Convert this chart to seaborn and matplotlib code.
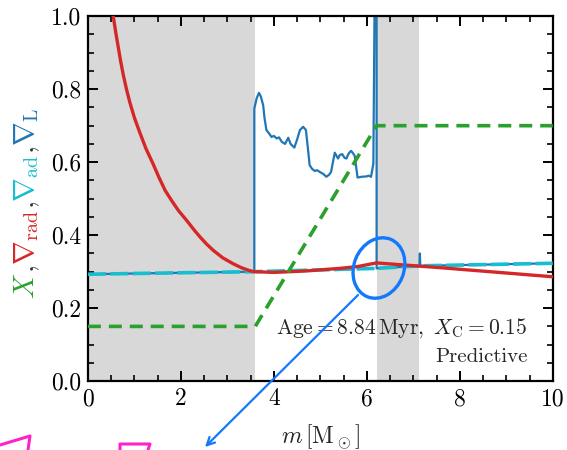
import numpy as np
import pandas as pd
import matplotlib
matplotlib.use("Agg")
import matplotlib.pyplot as plt
import seaborn as sns
from matplotlib.patches import Ellipse
from matplotlib.lines import Line2D
from matplotlib.transforms import offset_copy, IdentityTransform

# ---------------- data ----------------
# convective (shaded) zones in m [Msun]
conv_start = [0.0, 6.21]
conv_end = [3.6, 7.12]

# radiative gradient (red)
rad_m = [0.50, 0.545, 0.60, 0.70, 0.76, 0.83, 0.90, 1.00, 1.12, 1.25, 1.40, 1.53,
         1.66, 1.80, 1.95, 2.12, 2.30, 2.42, 2.55, 2.70, 2.90, 3.12, 3.30, 3.45,
         3.56, 3.60, 4.00, 4.70, 5.42, 5.80, 6.21, 7.14, 7.57, 10.0]
rad_v = [1.04, 1.00, 0.955, 0.88, 0.84, 0.80, 0.765, 0.722, 0.680, 0.637, 0.596, 0.558,
         0.523, 0.495, 0.467, 0.441, 0.412, 0.394, 0.376, 0.358, 0.338, 0.322, 0.311, 0.304,
         0.300, 0.300, 0.298, 0.302, 0.309, 0.314, 0.324, 0.315, 0.311, 0.286]

# adiabatic gradient (cyan)
ad_m = [0.0, 3.6, 6.2, 7.14, 10.0]
ad_v = [0.293, 0.300, 0.309, 0.316, 0.323]

# hydrogen abundance X (green)
x_m = [0.0, 3.6, 6.21, 10.0]
x_v = [0.15, 0.15, 0.70, 0.70]

# Ledoux gradient (blue)
L_m = [0.0, 3.58, 3.58, 3.63, 3.68, 3.72, 3.77, 3.80, 3.84, 3.89, 3.95, 4.00, 4.06, 4.11,
       4.17, 4.24, 4.31, 4.36, 4.44, 4.50, 4.56, 4.63, 4.69, 4.73, 4.77, 4.82, 4.88, 4.93,
       4.99, 5.06, 5.13, 5.19, 5.23, 5.27, 5.31, 5.38, 5.42, 5.47, 5.52, 5.56, 5.61, 5.66,
       5.70, 5.74, 5.80, 5.89, 5.99, 6.04, 6.09, 6.14, 6.17, 6.21, 6.21, 7.13, 7.14, 7.15,
       10.0]
L_v = [0.293, 0.300, 0.747, 0.775, 0.790, 0.780, 0.756, 0.720, 0.688, 0.680, 0.669, 0.672,
       0.665, 0.668, 0.656, 0.650, 0.667, 0.650, 0.640, 0.662, 0.688, 0.697, 0.688, 0.640,
       0.592, 0.582, 0.576, 0.578, 0.573, 0.568, 0.560, 0.566, 0.573, 0.600, 0.626, 0.610,
       0.620, 0.622, 0.612, 0.610, 0.624, 0.631, 0.625, 0.617, 0.558, 0.560, 0.561, 0.563,
       0.560, 0.596, 1.10, 1.10, 0.309, 0.316, 0.350, 0.316, 0.323]

# x / y ticks
xticks = [0, 2, 4, 6, 8, 10]
yticks = [0.0, 0.2, 0.4, 0.6, 0.8, 1.0]

# ---------------- style ----------------
sns.set_theme(style="ticks")
plt.rcParams.update({
    "font.family": "serif",
    "font.serif": ["cmr10"],
    "mathtext.fontset": "cm",
    "axes.formatter.use_mathtext": True,
    "axes.unicode_minus": False,
    "axes.linewidth": 1.6,
    "xtick.direction": "in",
    "ytick.direction": "in",
    "xtick.top": True,
    "ytick.right": True,
    "xtick.major.size": 7,
    "ytick.major.size": 7,
    "xtick.minor.size": 4,
    "ytick.minor.size": 4,
    "xtick.major.width": 1.4,
    "ytick.major.width": 1.4,
    "xtick.minor.width": 1.2,
    "ytick.minor.width": 1.2,
    "xtick.color": "black",
    "ytick.color": "black",
    "axes.edgecolor": "black",
})

RED, GREEN, CYAN, BLUE = "#d62728", "#2ca02c", "#17becf", "#1f77b4"

fig = plt.figure(figsize=(5.67, 4.5), dpi=100)
ax = fig.add_axes([0.155, 0.153, 0.82, 0.811])

for a, b in zip(conv_start, conv_end):
    ax.axvspan(a, b, color="#d8d8d8", lw=0, zorder=0)

sns.lineplot(x=L_m, y=L_v, sort=False, estimator=None, color=BLUE, lw=1.6, ax=ax, zorder=2)
sns.lineplot(x=ad_m, y=ad_v, sort=False, estimator=None, color=CYAN, lw=2.6, ax=ax,
             zorder=3, dashes=False)
ax.lines[-1].set_dashes([5, 1.2])
sns.lineplot(x=rad_m, y=rad_v, sort=False, estimator=None, color=RED, lw=2.4, ax=ax, zorder=4)
sns.lineplot(x=x_m, y=x_v, sort=False, estimator=None, color=GREEN, lw=2.6, ax=ax, zorder=5)
ax.lines[-1].set_dashes([3.6, 2.2])

ax.set_xlim(0, 10)
ax.set_ylim(0, 1)
ax.set_xticks(xticks)
ax.set_yticks(yticks)
ax.set_xticklabels([str(t) for t in xticks])
ax.set_yticklabels([f"{t:.1f}" for t in yticks])
ax.xaxis.set_minor_locator(matplotlib.ticker.MultipleLocator(0.5))
ax.yaxis.set_minor_locator(matplotlib.ticker.MultipleLocator(0.05))
ax.tick_params(which="both", labelsize=17, pad=5)
ax.tick_params(which="minor", labelsize=0)

ax.set_xlabel(r"$m\,[\mathrm{M}_\odot]$", fontsize=17, labelpad=9)
ax.set_ylabel("")

ax.text(0.946, 0.131, r"$\mathrm{Age} = 8.84\,\mathrm{Myr},\ X_\mathrm{C} = 0.15$",
        transform=ax.transAxes, ha="right", va="baseline", fontsize=15.5)
ax.text(0.946, 0.052, "Predictive", transform=ax.transAxes, ha="right",
        va="baseline", fontsize=15)

# multi-coloured y label
pieces = [(r"$X$", GREEN), (r"$,\ $", "#333333"), (r"$\nabla_\mathrm{rad}$", RED),
          (r"$,\ $", "#333333"), (r"$\nabla_\mathrm{ad}$", CYAN), (r"$,\ $", "#333333"),
          (r"$\nabla_\mathrm{L}$", BLUE)]
renderer = fig.canvas.get_renderer()
tr = fig.transFigure
offset = 0.0
for s, c in pieces:
    t = fig.text(0.060, 0.336, s, color=c, fontsize=20.5, rotation=90,
                 rotation_mode="anchor", ha="left", va="baseline",
                 transform=offset_copy(tr, fig=fig, y=offset, units="dots"))
    ext = t.get_window_extent(renderer)
    offset += ext.height

# hand-drawn annotations
cx, cy = ax.transData.transform((6.26, 0.31))
ell = Ellipse((cx, cy), 50, 62, angle=-22, fill=False, ec="#1478ff", lw=2.4,
              transform=IdentityTransform(), zorder=6)
fig.add_artist(ell)
ax.annotate("", xy=(205 / 567, 1 - 447 / 450), xycoords="figure fraction",
            xytext=(5.81, 0.236), textcoords="data",
            arrowprops=dict(arrowstyle="->", color="#1478ff", lw=1.6,
                            mutation_scale=14, shrinkA=0, shrinkB=0), zorder=6)
fig.add_artist(Line2D([0 / 567, 30 / 567, 28 / 567], [1 - 445 / 450, 1 - 436 / 450, 0.0],
                      transform=fig.transFigure, color="#ff22cc", lw=2.2))
fig.add_artist(Line2D([120 / 567, 120 / 567, 150 / 567, 148 / 567],
                      [0.0, 1 - 444 / 450, 1 - 444 / 450, 0.0],
                      transform=fig.transFigure, color="#ff22cc", lw=2.2))

fig.savefig("out.png", dpi=100)
